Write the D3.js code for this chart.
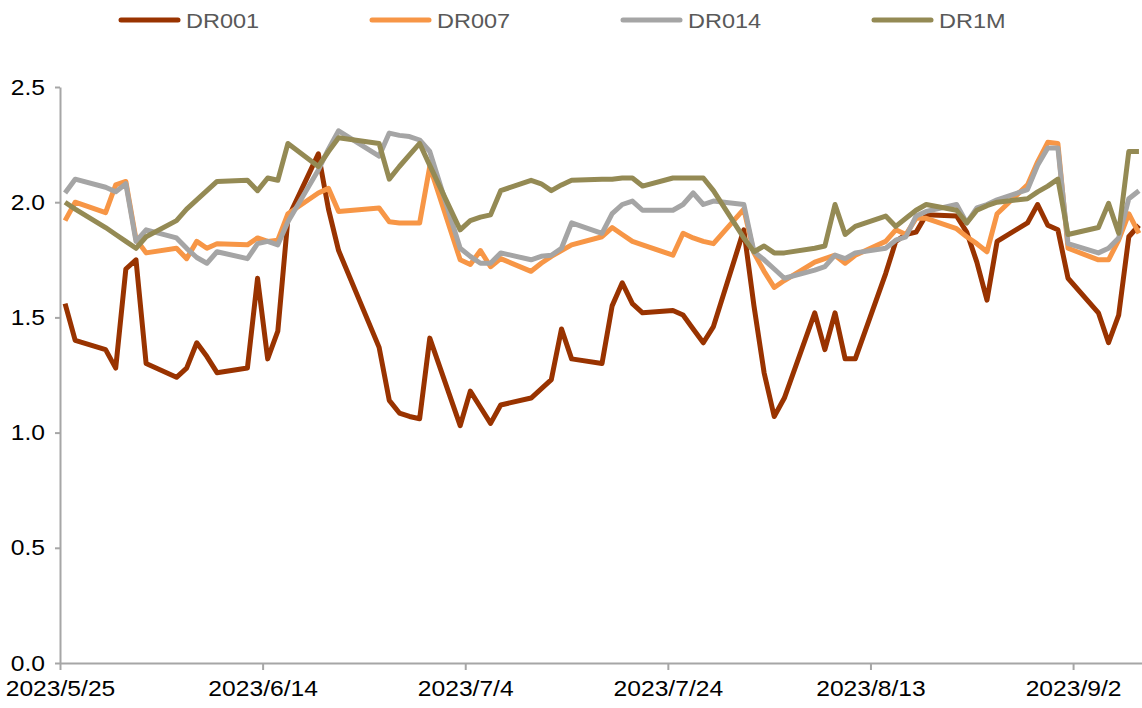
<!DOCTYPE html>
<html lang="zh">
<head>
<meta charset="UTF-8">
<title>DR</title>
<style>
  body { margin: 0; background: #fff; }
  svg text { font-family: "Liberation Sans", Arial, sans-serif; }
</style>
</head>
<body>
<script src="https://cdn.jsdelivr.net/npm/d3@7/dist/d3.min.js"></script>
<script>
const width = 1142, height = 708;
const margin = { top: 87, right: -2, bottom: 45, left: 60 };
// 原图文字略微横向拉伸
const stretch = 1.12;

// 交易日
const dates = [
  "5/25","5/26","5/29","5/30","5/31",
  "6/1","6/2","6/5","6/6","6/7","6/8","6/9","6/12","6/13","6/14","6/15","6/16",
  "6/19","6/20","6/21","6/25","6/26","6/27","6/28","6/29","6/30",
  "7/3","7/4","7/5","7/6","7/7","7/10","7/11","7/12","7/13","7/14",
  "7/17","7/18","7/19","7/20","7/21","7/24","7/25","7/26","7/27","7/28","7/31",
  "8/1","8/2","8/3","8/4","8/7","8/8","8/9","8/10","8/11","8/14","8/15","8/16","8/17","8/18",
  "8/21","8/22","8/23","8/24","8/25","8/28","8/29","8/30","8/31",
  "9/1","9/4","9/5","9/6","9/7","9/8"
];

const dr001 = [
  1.56,1.40,1.36,1.28,1.71,
  1.75,1.30,1.24,1.28,1.39,1.33,1.26,1.28,1.67,1.32,1.44,1.93,
  2.21,1.97,1.79,1.37,1.14,1.085,1.07,1.06,1.41,
  1.03,1.18,1.11,1.04,1.12,1.15,1.19,1.23,1.45,1.32,
  1.30,1.55,1.65,1.56,1.52,1.53,1.51,1.45,1.39,1.46,1.88,
  1.55,1.26,1.07,1.15,1.52,1.36,1.52,1.32,1.32,1.69,1.83,1.86,1.87,1.945,
  1.94,1.87,1.74,1.575,1.83,1.91,1.99,1.90,1.88,
  1.67,1.52,1.39,1.51,1.85,1.90
];
const dr007 = [
  1.92,2.00,1.955,2.075,2.09,
  1.84,1.78,1.80,1.755,1.83,1.80,1.82,1.815,1.845,1.83,1.835,1.95,
  2.04,2.06,1.96,1.975,1.915,1.91,1.91,1.91,2.155,
  1.75,1.73,1.79,1.72,1.755,1.70,1.735,1.765,1.79,1.815,
  1.85,1.89,1.86,1.83,1.815,1.77,1.865,1.845,1.83,1.82,1.97,
  1.78,1.70,1.63,1.66,1.74,1.755,1.77,1.735,1.77,1.83,1.88,1.86,1.93,1.93,
  1.885,1.85,1.82,1.785,1.95,2.075,2.175,2.26,2.255,
  1.80,1.75,1.75,1.835,1.95,1.865
];
const dr014 = [
  2.04,2.10,2.065,2.045,2.08,
  1.83,1.88,1.845,1.80,1.76,1.735,1.785,1.755,1.82,1.83,1.815,1.915,
  2.14,2.23,2.31,2.20,2.30,2.29,2.285,2.27,2.22,
  1.80,1.765,1.735,1.735,1.78,1.75,1.765,1.77,1.80,1.91,
  1.865,1.95,1.99,2.005,1.965,1.965,1.99,2.04,1.99,2.005,1.99,
  1.785,1.75,1.71,1.67,1.705,1.72,1.77,1.755,1.78,1.80,1.835,1.85,1.94,1.96,
  1.99,1.91,1.975,1.99,2.01,2.055,2.16,2.235,2.235,
  1.82,1.78,1.80,1.845,2.015,2.05
];
const dr1m = [
  2.00,1.97,1.89,1.86,1.83,
  1.80,1.85,1.92,1.97,2.01,2.05,2.09,2.095,2.05,2.105,2.095,2.255,
  2.155,2.22,2.28,2.255,2.10,2.155,2.205,2.255,2.16,
  1.88,1.92,1.935,1.945,2.05,2.095,2.08,2.05,2.075,2.095,
  2.10,2.10,2.105,2.105,2.07,2.105,2.105,2.105,2.105,2.05,1.845,
  1.785,1.81,1.78,1.78,1.80,1.81,1.99,1.86,1.895,1.94,1.895,1.93,1.965,1.99,
  1.965,1.91,1.965,1.985,2.00,2.015,2.045,2.07,2.10,
  1.86,1.89,1.995,1.865,2.22,2.22
];

const seriesNames = ["DR001", "DR007", "DR014", "DR1M"];
const seriesValues = [dr001, dr007, dr014, dr1m];
const colors = ["#993300", "#F79646", "#A5A5A5", "#948A54"];

const xTickLabels = ["2023/5/25", "2023/6/14", "2023/7/4", "2023/7/24", "2023/8/13", "2023/9/2"];
const yTicks = [0, 0.5, 1.0, 1.5, 2.0, 2.5];

const parseDay = s => { const [m, d] = s.split("/").map(Number); return new Date(2023, m - 1, d); };
const parseTick = s => { const [y, m, d] = s.split("/").map(Number); return new Date(y, m - 1, d); };

const svg = d3.select("body").append("svg").attr("width", width).attr("height", height);

// 比例尺 (点位于当天中间)
const x = d3.scaleTime()
  .domain([new Date(2023, 4, 25), new Date(2023, 8, 9)])
  .range([margin.left, width - margin.right]);
const y = d3.scaleLinear().domain([0, 2.5]).range([height - margin.bottom, margin.top]);

const mid = d => d3.timeHour.offset(d, 12);

// 坐标轴
const xAxis = d3.axisBottom(x)
  .tickValues(xTickLabels.map(parseTick))
  .tickFormat(d => `${d.getFullYear()}/${d.getMonth() + 1}/${d.getDate()}`)
  .tickSizeInner(7).tickSizeOuter(0).tickPadding(10);
const yAxis = d3.axisLeft(y)
  .tickValues(yTicks)
  .tickFormat(d3.format(".1f"))
  .tickSizeInner(5).tickSizeOuter(0).tickPadding(10);

const gx = svg.append("g").attr("transform", `translate(0,${height - margin.bottom})`).call(xAxis);
const gy = svg.append("g").attr("transform", `translate(${margin.left},0)`).call(yAxis);
[gx, gy].forEach(g => {
  g.select(".domain").attr("stroke", "#A6A6A6").attr("stroke-width", 2);
  g.selectAll(".tick line").attr("stroke", "#A6A6A6").attr("stroke-width", 2);
  g.selectAll(".tick text").attr("fill", "#000").attr("font-size", 22)
    .attr("font-family", "'Liberation Sans', Arial, sans-serif");
});
gx.selectAll(".tick text").attr("transform", `scale(${stretch},1)`);
gy.selectAll(".tick text")
  .attr("x", -15 / stretch)
  .attr("transform", `scale(${stretch},1)`);

const days = dates.map(parseDay);
const line = d3.line()
  .x((d, i) => x(mid(days[i])))
  .y(d => y(d))
  .curve(d3.curveLinear);

svg.append("g").selectAll("path").data(seriesValues).enter()
  .append("path")
  .attr("d", d => line(d))
  .attr("fill", "none")
  .attr("stroke", (d, i) => colors[i])
  .attr("stroke-width", 5)
  .attr("stroke-linejoin", "round");

// 图例
const legend = svg.append("g").selectAll("g").data(seriesNames).enter()
  .append("g").attr("transform", (d, i) => `translate(${121 + i * 251},20)`);
legend.append("line").attr("x1", 0).attr("x2", 57).attr("y1", 0).attr("y2", 0)
  .attr("stroke", (d, i) => colors[i]).attr("stroke-width", 5).attr("stroke-linecap", "round");
legend.append("text")
  .attr("transform", `translate(65,0) scale(${stretch},1)`)
  .attr("dy", "0.36em")
  .attr("font-size", 21).attr("fill", "#595959").text(d => d);
</script>
</body>
</html>
